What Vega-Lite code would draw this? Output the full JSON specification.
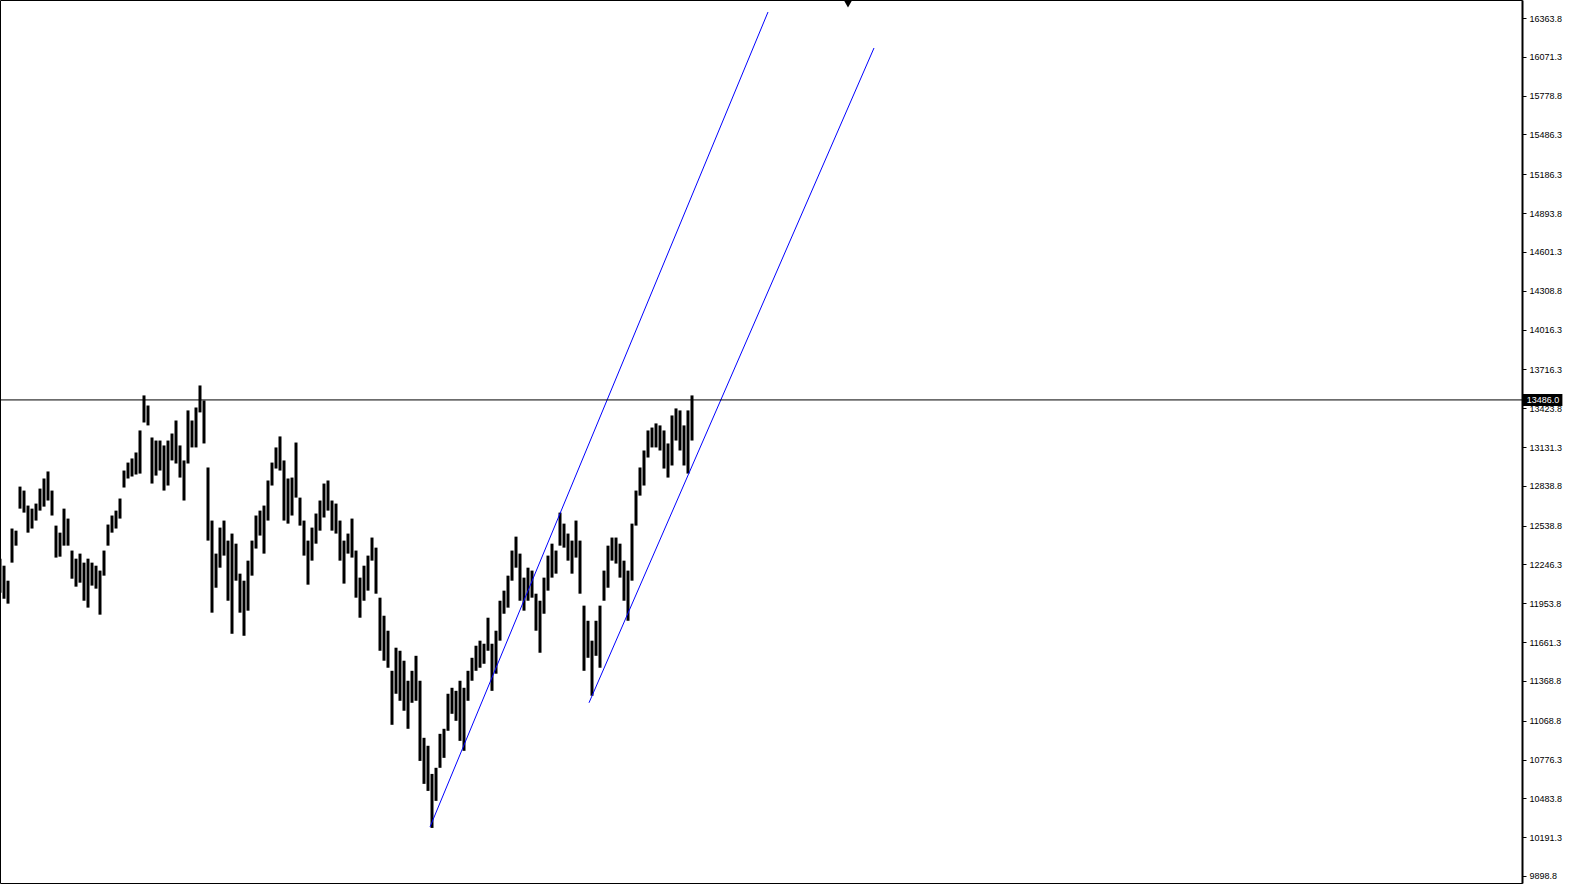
{
  "$schema": "https://vega.github.io/schema/vega-lite/v6.json",
  "width": 1522,
  "height": 883,
  "autosize": "none",
  "padding": {"left": 0, "top": 0, "right": 50, "bottom": 3},
  "background": "white",
  "config": {
    "view": {"stroke": "black", "strokeWidth": 1},
    "font": "Liberation Sans",
    "axis": {"grid": false}
  },
  "datasets": {
    "bars": [
      {"t":0,"high":12290,"low":12034},{"t":1,"high":12237,"low":11988},{"t":2,"high":12124,"low":11951},{"t":3,"high":12517,"low":12260},
      {"t":4,"high":12501,"low":12388},{"t":5,"high":12833,"low":12667},{"t":6,"high":12803,"low":12637},{"t":7,"high":12690,"low":12486},
      {"t":8,"high":12667,"low":12517},{"t":9,"high":12705,"low":12577},{"t":10,"high":12818,"low":12652},{"t":11,"high":12894,"low":12682},
      {"t":12,"high":12947,"low":12728},{"t":13,"high":12803,"low":12615},{"t":14,"high":12539,"low":12298},{"t":15,"high":12486,"low":12305},
      {"t":16,"high":12667,"low":12388},{"t":17,"high":12592,"low":12388},{"t":18,"high":12351,"low":12139},{"t":19,"high":12290,"low":12079},
      {"t":20,"high":12328,"low":12109},{"t":21,"high":12260,"low":11973},{"t":22,"high":12290,"low":11921},{"t":23,"high":12260,"low":12087},
      {"t":24,"high":12237,"low":12064},{"t":25,"high":12200,"low":11868},{"t":26,"high":12351,"low":12162},{"t":27,"high":12547,"low":12388},
      {"t":28,"high":12615,"low":12486},{"t":29,"high":12652,"low":12517},{"t":30,"high":12743,"low":12592},{"t":31,"high":12954,"low":12826},
      {"t":32,"high":13014,"low":12894},{"t":33,"high":13045,"low":12909},{"t":34,"high":13090,"low":12924},{"t":35,"high":13256,"low":12931},
      {"t":36,"high":13520,"low":13316},{"t":37,"high":13444,"low":13294},{"t":38,"high":13203,"low":12856},{"t":39,"high":13180,"low":12916},
      {"t":40,"high":13180,"low":12954},{"t":41,"high":13143,"low":12803},{"t":42,"high":13180,"low":12841},{"t":43,"high":13233,"low":13030},
      {"t":44,"high":13331,"low":13007},{"t":45,"high":13143,"low":12901},{"t":46,"high":13030,"low":12728},{"t":47,"high":13407,"low":13007},
      {"t":48,"high":13331,"low":13128},{"t":49,"high":13429,"low":13128},{"t":50,"high":13595,"low":13392},{"t":51,"high":13482,"low":13158},
      {"t":52,"high":12977,"low":12426},{"t":53,"high":12577,"low":11883},{"t":54,"high":12328,"low":12071},{"t":55,"high":12524,"low":12222},
      {"t":56,"high":12577,"low":12313},{"t":57,"high":12426,"low":11973},{"t":58,"high":12479,"low":11724},{"t":59,"high":12403,"low":12124},
      {"t":60,"high":12177,"low":11883},{"t":61,"high":12124,"low":11709},{"t":62,"high":12275,"low":11898},{"t":63,"high":12426,"low":12162},
      {"t":64,"high":12615,"low":12366},{"t":65,"high":12652,"low":12464},{"t":66,"high":12690,"low":12328},{"t":67,"high":12879,"low":12577},
      {"t":68,"high":13014,"low":12841},{"t":69,"high":13128,"low":12969},{"t":70,"high":13211,"low":12954},{"t":71,"high":13030,"low":12577},
      {"t":72,"high":12894,"low":12554},{"t":73,"high":12901,"low":12615},{"t":74,"high":13165,"low":12750},{"t":75,"high":12750,"low":12539},
      {"t":76,"high":12577,"low":12313},{"t":77,"high":12426,"low":12094},{"t":78,"high":12524,"low":12275},{"t":79,"high":12630,"low":12403},
      {"t":80,"high":12728,"low":12501},{"t":81,"high":12856,"low":12600},{"t":82,"high":12879,"low":12652},{"t":83,"high":12728,"low":12501},
      {"t":84,"high":12705,"low":12479},{"t":85,"high":12577,"low":12275},{"t":86,"high":12426,"low":12102},{"t":87,"high":12479,"low":12328},
      {"t":88,"high":12592,"low":12298},{"t":89,"high":12351,"low":11996},{"t":90,"high":12147,"low":11845},{"t":91,"high":12237,"low":11973},
      {"t":92,"high":12313,"low":12049},{"t":93,"high":12449,"low":12275},{"t":94,"high":12373,"low":12026},{"t":95,"high":11996,"low":11596},
      {"t":96,"high":11860,"low":11521},{"t":97,"high":11747,"low":11468},{"t":98,"high":11445,"low":11038},{"t":99,"high":11619,"low":11272},
      {"t":100,"high":11596,"low":11219},{"t":101,"high":11521,"low":11144},{"t":102,"high":11370,"low":11008},{"t":103,"high":11445,"low":11204},
      {"t":104,"high":11558,"low":11219},{"t":105,"high":11370,"low":10766},{"t":106,"high":10940,"low":10593},{"t":107,"high":10880,"low":10540},
      {"t":108,"high":10668,"low":10261},{"t":109,"high":10714,"low":10465},{"t":110,"high":10970,"low":10714},{"t":111,"high":11008,"low":10789},
      {"t":112,"high":11272,"low":10993},{"t":113,"high":11317,"low":11121},{"t":114,"high":11294,"low":11068},{"t":115,"high":11370,"low":10917},
      {"t":116,"high":11317,"low":10842},{"t":117,"high":11445,"low":11219},{"t":118,"high":11543,"low":11370},{"t":119,"high":11634,"low":11445},
      {"t":120,"high":11672,"low":11468},{"t":121,"high":11649,"low":11498},{"t":122,"high":11845,"low":11596},{"t":123,"high":11649,"low":11294},
      {"t":124,"high":11747,"low":11423},{"t":125,"high":11973,"low":11672},{"t":126,"high":12049,"low":11875},{"t":127,"high":12162,"low":11921},
      {"t":128,"high":12351,"low":12124},{"t":129,"high":12456,"low":12222},{"t":130,"high":12328,"low":11973},{"t":131,"high":12147,"low":11898},
      {"t":132,"high":12222,"low":11973},{"t":133,"high":12200,"low":11996},{"t":134,"high":12026,"low":11747},{"t":135,"high":11973,"low":11581},
      {"t":136,"high":12147,"low":11875},{"t":137,"high":12313,"low":12049},{"t":138,"high":12403,"low":12147},{"t":139,"high":12351,"low":12177},
      {"t":140,"high":12637,"low":12388},{"t":141,"high":12554,"low":12373},{"t":142,"high":12479,"low":12275},{"t":143,"high":12426,"low":12177},
      {"t":144,"high":12577,"low":12298},{"t":145,"high":12426,"low":12026},{"t":146,"high":11936,"low":11445},{"t":147,"high":11822,"low":11543},
      {"t":148,"high":11672,"low":11257},{"t":149,"high":11822,"low":11558},{"t":150,"high":11936,"low":11468},{"t":151,"high":12200,"low":11973},
      {"t":152,"high":12388,"low":12071},{"t":153,"high":12449,"low":12275},{"t":154,"high":12449,"low":12253},{"t":155,"high":12403,"low":12147},
      {"t":156,"high":12275,"low":11973},{"t":157,"high":12200,"low":11822},{"t":158,"high":12554,"low":12124},{"t":159,"high":12803,"low":12539},
      {"t":160,"high":12977,"low":12765},{"t":161,"high":13105,"low":12841},{"t":162,"high":13256,"low":13052},{"t":163,"high":13278,"low":13128},
      {"t":164,"high":13309,"low":13128},{"t":165,"high":13294,"low":13105},{"t":166,"high":13256,"low":12969},{"t":167,"high":13158,"low":12901},
      {"t":168,"high":13369,"low":12992},{"t":169,"high":13422,"low":13180},{"t":170,"high":13407,"low":13105},{"t":171,"high":13294,"low":12992},
      {"t":172,"high":13407,"low":12931},{"t":173,"high":13520,"low":13180}
    ],
    "trend": [
      {"line":"a","t":107.5,"price":10268},{"line":"a","t":192,"price":16409},
      {"line":"b","t":147.25,"price":11204},{"line":"b","t":218.5,"price":16138}
    ]
  },
  "encoding": {
    "x": {"field": "t", "type": "quantitative", "axis": null, "scale": {"domain": [0, 380.5], "nice": false, "zero": false}}
  },
  "layer": [
    {
      "data": {"name": "bars"},
      "mark": {"type": "rule", "color": "black", "strokeWidth": 3},
      "encoding": {
        "y": {"field": "low", "type": "quantitative",
          "scale": {"domain": [9846, 16499.6], "nice": false, "zero": false},
          "axis": {"orient": "right", "title": null,
            "values": [16363.8,16071.3,15778.8,15486.3,15186.3,14893.8,14601.3,14308.8,14016.3,13716.3,13423.8,13131.3,12838.8,12538.8,12246.3,11953.8,11661.3,11368.8,11068.8,10776.3,10483.8,10191.3,9898.8],
            "format": ".1f", "labelFont": "Liberation Sans", "labelFontSize": 9, "labelColor": "black",
            "tickColor": "black", "tickSize": 4, "labelPadding": 3, "domainColor": "black", "domainWidth": 2,
            "labelBaseline": "middle", "labelAlign": "left"}},
        "y2": {"field": "high"}
      }
    },
    {
      "data": {"name": "trend"},
      "mark": {"type": "line", "color": "#0000ff", "strokeWidth": 1},
      "encoding": {
        "y": {"field": "price", "type": "quantitative"},
        "detail": {"field": "line"}
      }
    },
    {
      "data": {"values": [{"price": 13486}]},
      "mark": {"type": "rule", "color": "black", "strokeWidth": 1},
      "encoding": {"x": null, "y": {"field": "price", "type": "quantitative"}}
    },
    {
      "data": {"values": [{"t": 212, "price": 16478}]},
      "mark": {"type": "point", "shape": "triangle-down", "filled": true, "color": "black", "size": 110, "opacity": 1},
      "encoding": {"y": {"field": "price", "type": "quantitative"}}
    },
    {
      "data": {"values": [{"a": 380.6, "b": 390.6, "top": 13531, "bottom": 13441}]},
      "mark": {"type": "rect", "color": "black"},
      "encoding": {
        "x": {"field": "a", "type": "quantitative"},
        "x2": {"field": "b"},
        "y": {"field": "top", "type": "quantitative"},
        "y2": {"field": "bottom"}
      }
    },
    {
      "data": {"values": [{"t": 381.7, "price": 13486, "label": "13486.0"}]},
      "mark": {"type": "text", "color": "white", "align": "left", "baseline": "middle", "font": "Liberation Sans", "fontSize": 9},
      "encoding": {
        "y": {"field": "price", "type": "quantitative"},
        "text": {"field": "label"}
      }
    }
  ]
}
